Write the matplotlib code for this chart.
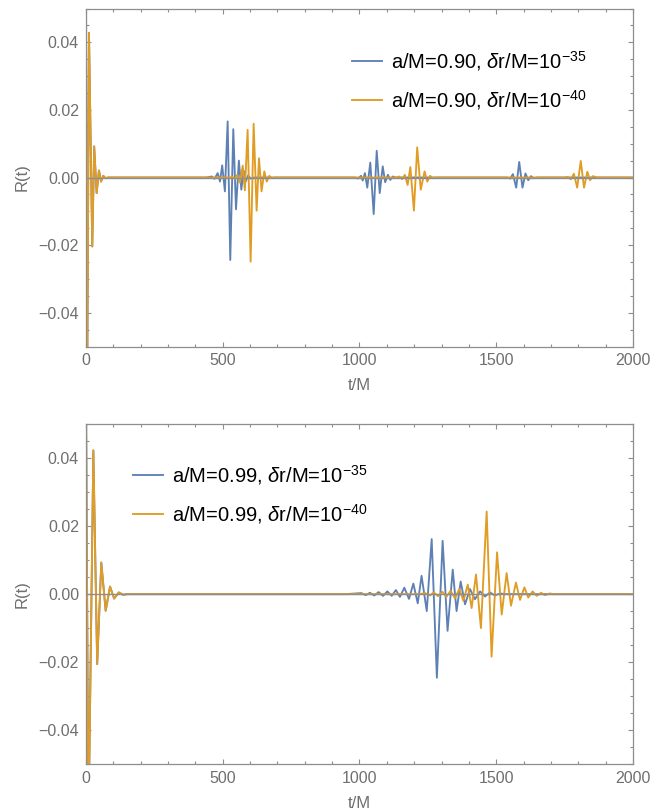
import matplotlib
matplotlib.use("Agg")
import matplotlib.pyplot as plt
from matplotlib.ticker import MultipleLocator, FuncFormatter

plt.rcParams['font.family'] = ['Liberation Sans', 'DejaVu Sans']
plt.rcParams['mathtext.fontset'] = 'custom'
plt.rcParams['mathtext.rm'] = 'Liberation Sans'
plt.rcParams['mathtext.it'] = 'Liberation Sans:italic'
plt.rcParams['mathtext.bf'] = 'Liberation Sans:bold'

BLUE = '#5e81b5'
ORANGE = '#e19c24'
GREY = '#8e8e8e'
LABEL_GREY = '#6f6f6f'

# ---- a/M = 0.90 ----
# ringdown (identical for both delta r)
t_ring_090 = [0, 4, 11, 23, 30, 39, 47.5, 55, 63, 72, 80]
r_ring_090 = [0.06, -0.07, 0.0428, -0.0204, 0.0092, -0.0046, 0.0021, -0.0012, 0.0005, -0.0002, 0.0]

# echoes, dr/M = 1e-35
t_echo_090_35 = [440, 460, 470, 481.5, 490, 498, 508, 518, 527.6, 538.6, 548.5, 559, 568, 576.6, 584, 593, 602, 615,
                 985, 995, 1005.5, 1011.7, 1020, 1028.5, 1039.5, 1052, 1063, 1074, 1085, 1094, 1104, 1112.6, 1122, 1132,
                 1540, 1551, 1561, 1573, 1584, 1596, 1607, 1617, 1627, 1637, 1650]
r_echo_090_35 = [0.0, 0.0003, -0.0004, 0.0013, -0.0012, 0.0036, -0.0041, 0.0166, -0.0244, 0.0143, -0.0094, 0.0050,
                 -0.0036, 0.0020, -0.0012, 0.0006, -0.0003, 0.0,
                 0.0, -0.0003, 0.0005, -0.0009, 0.0013, -0.0030, 0.0044, -0.0108, 0.0079, -0.0046, 0.0033, -0.0014,
                 0.0008, -0.0007, 0.0003, 0.0,
                 0.0, -0.0003, 0.0010, -0.0030, 0.0046, -0.0030, 0.0012, -0.0008, 0.0004, -0.0002, 0.0]

# echoes, dr/M = 1e-40
t_echo_090_40 = [525, 535, 544, 553, 563, 573, 581, 591, 602, 613, 624, 632.5, 642, 652, 661, 670, 680, 690,
                 1136, 1146, 1156, 1166, 1176, 1186, 1199, 1211, 1224, 1238, 1248, 1258, 1268, 1278,
                 1750, 1762, 1773, 1784, 1796, 1809, 1821, 1833, 1843, 1853, 1870]
r_echo_090_40 = [0.0, 0.0002, -0.0004, 0.0008, -0.0015, 0.0035, -0.0038, 0.0141, -0.0249, 0.0159, -0.0098, 0.0057,
                 -0.0041, 0.0018, -0.0012, 0.0005, -0.0002, 0.0,
                 0.0, 0.0003, -0.0005, 0.0008, -0.0022, 0.0031, -0.0098, 0.0089, -0.0036, 0.0018, -0.0012, 0.0005,
                 -0.0002, 0.0,
                 0.0, 0.0002, -0.0005, 0.0011, -0.0030, 0.0049, -0.0030, 0.0017, -0.0008, 0.0004, 0.0]

# ---- a/M = 0.99 ----
t_ring_099 = [0, 9, 27, 41, 56, 72, 88, 103, 120, 136, 150]
r_ring_099 = [0.06, -0.07, 0.0423, -0.0206, 0.0093, -0.0049, 0.0022, -0.0013, 0.0005, -0.0002, 0.0]

t_echo_099_35 = [950, 1007, 1023, 1038, 1054, 1070, 1086, 1102, 1118, 1133, 1148, 1164, 1181, 1197, 1213, 1227,
                 1246, 1264, 1283, 1304, 1322, 1341, 1355, 1370, 1386, 1404, 1422, 1441, 1459, 1477, 1495, 1514, 1530]
r_echo_099_35 = [0.0, 0.0003, -0.0003, 0.0004, -0.0004, 0.0006, -0.0005, 0.0008, -0.0005, 0.0012, -0.0008, 0.0019,
                 -0.0014, 0.0031, -0.0027, 0.0054, -0.0050, 0.0162, -0.0246, 0.0157, -0.0108, 0.0072, -0.0050,
                 0.0037, -0.0030, 0.0015, -0.0015, 0.0008, -0.0007, 0.0005, -0.0004, 0.0002, 0.0]

t_echo_099_40 = [1220, 1240, 1258, 1272, 1287, 1303, 1318, 1333, 1349, 1365, 1380, 1396, 1410, 1426, 1444, 1465,
                 1483, 1503, 1520, 1538, 1554, 1572, 1587, 1603, 1617, 1633, 1648, 1664, 1678, 1695, 1710]
r_echo_099_40 = [0.0, 0.0003, -0.0004, 0.0005, -0.0006, 0.0007, -0.0008, 0.0010, -0.0012, 0.0015, -0.0020, 0.0028,
                 -0.0041, 0.0058, -0.0100, 0.0243, -0.0184, 0.0123, -0.0060, 0.0062, -0.0034, 0.0034, -0.0017,
                 0.0020, -0.0010, 0.0008, -0.0005, 0.0004, -0.0003, 0.0002, 0.0]

labels_090 = [r'a/M=0.90, $\delta$r/M=10$^{-35}$', r'a/M=0.90, $\delta$r/M=10$^{-40}$']
labels_099 = [r'a/M=0.99, $\delta$r/M=10$^{-35}$', r'a/M=0.99, $\delta$r/M=10$^{-40}$']


def style_axes(ax):
    ax.set_xlim(0, 2000)
    ax.set_ylim(-0.05, 0.05)
    ax.xaxis.set_major_locator(MultipleLocator(500))
    ax.xaxis.set_minor_locator(MultipleLocator(100))
    ax.yaxis.set_major_locator(MultipleLocator(0.02))
    ax.yaxis.set_minor_locator(MultipleLocator(0.005))
    ax.yaxis.set_major_formatter(FuncFormatter(lambda v, p: ('%.2f' % v).replace('-', '\u2212')))
    ax.tick_params(which='both', direction='in', top=True, right=True, color=GREY, width=0.8,
                   labelcolor=LABEL_GREY, labelsize=11.5)
    ax.tick_params(which='major', length=3.6, pad=5)
    ax.tick_params(which='minor', length=2.1)
    for s in ax.spines.values():
        s.set_color(GREY)
        s.set_linewidth(0.9)
    ax.axhline(0, color=GREY, lw=1.0, zorder=3)
    ax.set_xlabel('t/M', color=LABEL_GREY, fontsize=12, labelpad=7)
    ax.set_ylabel('R(t)', color=LABEL_GREY, fontsize=12, labelpad=6)


def draw_panel(ax, t_ring, r_ring, t35, r35, t40, r40, labels, anchor):
    ax.plot(t_ring + t35 + [2000], r_ring + r35 + [0.0], color=BLUE, lw=1.35,
            solid_joinstyle='round', label=labels[0])
    ax.plot(t_ring + t40 + [2000], r_ring + r40 + [0.0], color=ORANGE, lw=1.35,
            solid_joinstyle='round', label=labels[1])
    style_axes(ax)
    ax.legend(loc='upper left', bbox_to_anchor=anchor, frameon=False, fontsize=14.5,
              handlelength=1.5, handletextpad=0.45, labelspacing=0.75, borderpad=0, borderaxespad=0)


fig = plt.figure(figsize=(6.67, 8.10), dpi=100)
ax1 = fig.add_axes([0.1289, 0.5722, 0.8201, 0.4173])
ax2 = fig.add_axes([0.1289, 0.0568, 0.8201, 0.4194])

draw_panel(ax1, t_ring_090, r_ring_090, t_echo_090_35, r_echo_090_35, t_echo_090_40, r_echo_090_40,
           labels_090, (0.486, 0.881))
draw_panel(ax2, t_ring_099, r_ring_099, t_echo_099_35, r_echo_099_35, t_echo_099_40, r_echo_099_40,
           labels_099, (0.086, 0.886))

fig.savefig('out.png', dpi=100)
